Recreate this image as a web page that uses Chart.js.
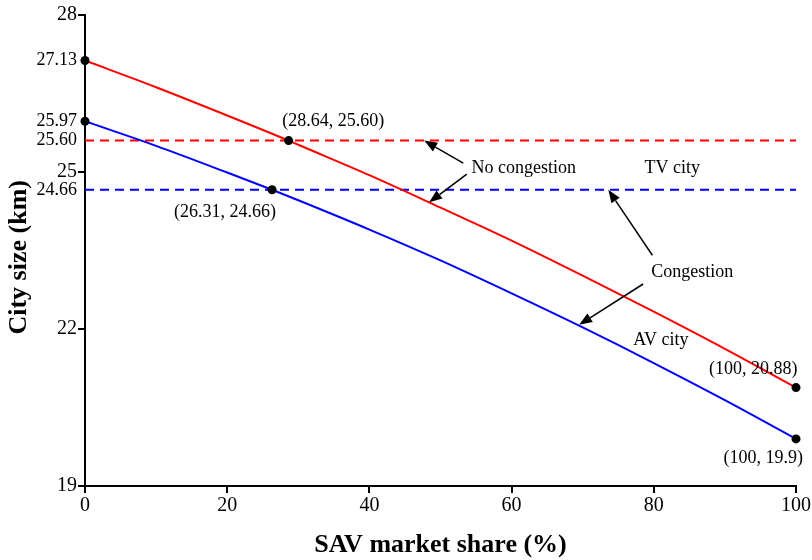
<!DOCTYPE html>
<html>
<head>
<meta charset="utf-8">
<script src="https://cdn.jsdelivr.net/npm/chart.js@4.4.1/dist/chart.umd.min.js"></script>
<style>
  html, body { margin: 0; padding: 0; background: #ffffff; }
  canvas { display: block; }
</style>
</head>
<body>
<canvas id="chart" width="812" height="560"></canvas>
<script>
// SAV market share (%) sample points for each curve
const shareNoCong = [0, 10, 20, 28.64, 30, 40, 50, 60, 70, 80, 90, 100];
const shareCong   = [0, 10, 20, 26.31, 30, 40, 50, 60, 70, 80, 90, 100];

// AV city size (km), no congestion (red) and congestion (blue)
const avNoCong = [27.13, 26.62, 26.08, 25.60, 25.52, 24.94, 24.32, 23.69, 23.02, 22.33, 21.62, 20.88];
const avCong   = [25.97, 25.50, 24.99, 24.66, 24.46, 23.90, 23.31, 22.68, 22.03, 21.35, 20.64, 19.90];

// TV city size (km), constant over the share
const tvNoCong = 25.60;
const tvCong = 24.66;

// Highlighted points and their labels
const keyX = [0, 0, 28.64, 26.31, 100, 100];
const keyY = [27.13, 25.97, 25.60, 24.66, 20.88, 19.9];
const keyLabels = [null, null, '(28.64, 25.60)', '(26.31, 24.66)', '(100, 20.88)', '(100, 19.9)'];

// Axis ticks
const xTicks = [0, 20, 40, 60, 80, 100];
const yMajorTicks = [19, 22, 25, 28];
const yExtraTicks = [24.66, 25.60, 25.97, 27.13];

const SERIF = '"Liberation Serif", "Times New Roman", Times, serif';
const RED = '#ff0000';
const BLUE = '#0000ff';

const toPoints = (xs, ys) => xs.map((x, i) => ({ x: x, y: ys[i] }));

// Text placed in data space: [text, x, y]
const notes = [
  [keyLabels[2], 34.9, 25.97],
  [keyLabels[3], 19.7, 24.24],
  [keyLabels[4], 94.0, 21.24],
  [keyLabels[5], 95.4, 19.53],
  ['No congestion', 61.7, 25.08],
  ['TV city', 82.6, 25.08],
  ['Congestion', 85.4, 23.09],
  ['AV city', 81.0, 21.79]
];

// Arrows: [tailX, tailY, tipX, tipY] in data space
const arrows = [
  [53.2, 25.17, 47.7, tvNoCong],
  [53.7, 24.96, 48.4, 24.42],
  [79.8, 23.41, 73.6, tvCong],
  [78.5, 22.86, 69.5, 22.08]
];

const annotations = {
  id: 'annotations',
  afterDatasetsDraw(chart) {
    const ctx = chart.ctx;
    const xs = chart.scales.x, ys = chart.scales.y;
    ctx.save();
    ctx.fillStyle = '#000';
    ctx.font = '18px ' + SERIF;
    ctx.textAlign = 'center';
    ctx.textBaseline = 'middle';
    notes.forEach(([t, x, y]) => {
      ctx.fillText(t, xs.getPixelForValue(x), ys.getPixelForValue(y));
    });
    ctx.strokeStyle = '#000';
    ctx.lineWidth = 1.5;
    arrows.forEach(([x0, y0, x1, y1]) => {
      const ax = xs.getPixelForValue(x0), ay = ys.getPixelForValue(y0);
      const bx = xs.getPixelForValue(x1), by = ys.getPixelForValue(y1);
      const ang = Math.atan2(by - ay, bx - ax);
      const len = 13, half = 5;
      const hx = bx - len * Math.cos(ang), hy = by - len * Math.sin(ang);
      ctx.beginPath();
      ctx.moveTo(ax, ay);
      ctx.lineTo(hx, hy);
      ctx.stroke();
      ctx.beginPath();
      ctx.moveTo(bx, by);
      ctx.lineTo(hx + half * Math.sin(ang), hy - half * Math.cos(ang));
      ctx.lineTo(hx - half * Math.sin(ang), hy + half * Math.cos(ang));
      ctx.closePath();
      ctx.fill();
    });

    // Vertical axis title
    ctx.save();
    ctx.translate(19, ys.getPixelForValue(23.37));
    ctx.rotate(-Math.PI / 2);
    ctx.font = 'bold 26px ' + SERIF;
    ctx.fillText('City size (km)', 0, 0);
    ctx.restore();
    ctx.restore();
  }
};

new Chart(document.getElementById('chart'), {
  type: 'scatter',
  data: {
    datasets: [
      {
        data: toPoints(keyX, keyY),
        pointRadius: 4.5,
        pointHoverRadius: 4.5,
        pointBackgroundColor: '#000',
        pointBorderWidth: 0,
        showLine: false,
        clip: false,
        order: 0
      },
      {
        data: toPoints(shareNoCong, avNoCong),
        showLine: true,
        borderColor: RED,
        borderWidth: 2,
        pointRadius: 0,
        cubicInterpolationMode: 'monotone',
        order: 1
      },
      {
        data: toPoints(shareCong, avCong),
        showLine: true,
        borderColor: BLUE,
        borderWidth: 2,
        pointRadius: 0,
        cubicInterpolationMode: 'monotone',
        order: 1
      },
      {
        data: toPoints([0, 100], [tvNoCong, tvNoCong]),
        showLine: true,
        borderColor: RED,
        borderWidth: 2,
        borderDash: [9, 6],
        pointRadius: 0,
        order: 2
      },
      {
        data: toPoints([0, 100], [tvCong, tvCong]),
        showLine: true,
        borderColor: BLUE,
        borderWidth: 2,
        borderDash: [9, 6],
        pointRadius: 0,
        order: 2
      }
    ]
  },
  options: {
    responsive: false,
    animation: false,
    devicePixelRatio: 1,
    layout: { padding: { top: 15, right: 16, left: 0, bottom: 0 } },
    plugins: { legend: { display: false }, tooltip: { enabled: false } },
    scales: {
      x: {
        type: 'linear',
        min: 0,
        max: 100,
        afterBuildTicks: (s) => { s.ticks = xTicks.map(v => ({ value: v })); },
        afterFit: (s) => { s.height = 74; },
        border: { color: '#000', width: 2 },
        grid: { drawOnChartArea: false, drawTicks: true, tickLength: 7, tickColor: '#000', lineWidth: 2 },
        ticks: { color: '#000', padding: 1, font: { family: SERIF, size: 20 }, maxRotation: 0, autoSkip: false },
        title: {
          display: true,
          text: 'SAV market share (%)',
          color: '#000',
          font: { family: SERIF, size: 26, weight: 'bold', lineHeight: 1.0 },
          padding: { top: 0, bottom: 2 }
        }
      },
      y: {
        type: 'linear',
        min: 19,
        max: 28,
        afterBuildTicks: (s) => {
          s.ticks = yMajorTicks.concat(yExtraTicks).sort((a, b) => a - b).map(v => ({ value: v }));
        },
        afterFit: (s) => { s.width = 85; },
        border: { color: '#000', width: 2 },
        grid: {
          drawOnChartArea: false,
          drawTicks: true,
          tickLength: 7,
          lineWidth: 2,
          tickColor: (c) => (c.tick && yMajorTicks.includes(c.tick.value)) ? '#000' : 'rgba(0,0,0,0)'
        },
        ticks: {
          color: '#000',
          padding: 1,
          autoSkip: false,
          font: (c) => ({ family: SERIF, size: (c.tick && yMajorTicks.includes(c.tick.value)) ? 20 : 18 }),
          callback: (v) => Number.isInteger(v) ? String(v) : v.toFixed(2)
        },
        title: { display: false }
      }
    }
  },
  plugins: [annotations]
});
</script>
</body>
</html>
